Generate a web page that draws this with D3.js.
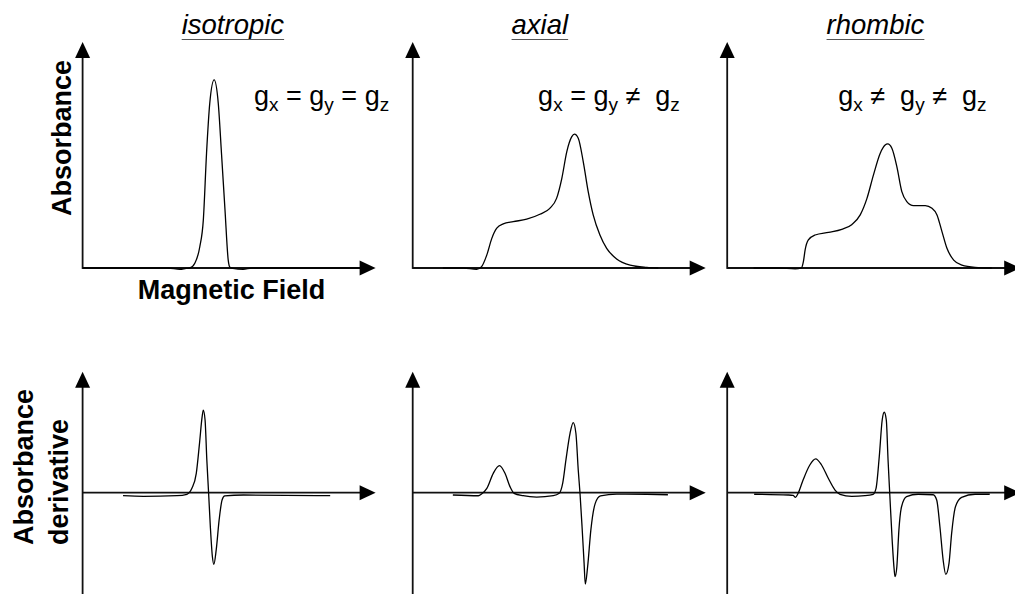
<!DOCTYPE html>
<html>
<head>
<meta charset="utf-8">
<script src="https://cdn.jsdelivr.net/npm/d3@7"></script>
<style>
  html, body { margin: 0; padding: 0; background: #fff; }
  svg { display: block; }
  text { font-family: "Liberation Sans", Arial, Helvetica, sans-serif; fill: #000; }
</style>
</head>
<body>
<svg id="chart" width="1015" height="594"></svg>
<script>
// Column headings (symmetry of the g tensor)
const symmetries = ["isotropic", "axial", "rhombic"];
// Relations between gx/gy and gy/gz for each symmetry
const gRelations = [["=", "="], ["=", "\u2260"], ["\u2260", "\u2260"]];

// Absorption spectra: [magnetic field (a.u. 0-100), absorbance (a.u.)]
const isotropicAbs = [
  [0, 0], [19.6, 0], [29.2, 0], [33.2, -0.006], [35.3, -0.002], [36.6, 0],
  [38.3, 0.021], [40.0, 0.094], [41.2, 0.212], [42.3, 0.508], [43.4, 0.729],
  [44.9, 0.832], [46.3, 0.729], [47.4, 0.508], [48.6, 0.257], [49.7, 0.035],
  [50.3, 0.003], [51.3, -0.002], [54.8, -0.006], [57.8, 0], [74.2, 0], [95, 0]
];
const axialAbs = [
  [10.3, 0], [17.3, 0], [21.8, -0.006], [23.5, 0.006], [25.3, 0.058],
  [27.0, 0.131], [28.7, 0.176], [30.9, 0.195], [34.3, 0.205], [38.9, 0.216],
  [43.4, 0.238], [46.8, 0.264], [49.1, 0.308], [50.9, 0.397], [52.6, 0.515],
  [54.3, 0.581], [55.2, 0.592], [56.5, 0.574], [58.2, 0.471], [59.9, 0.338],
  [61.6, 0.235], [63.9, 0.146], [66.2, 0.087], [69.6, 0.040], [74.2, 0.013],
  [79.9, 0.003], [83.8, 0]
];
const rhombicAbs = [
  [9.0, 0], [17.5, 0], [23.2, -0.004], [25.3, 0], [26.0, 0.028], [26.6, 0.080],
  [27.7, 0.124], [30.0, 0.146], [34.6, 0.158], [39.1, 0.171], [42.6, 0.193],
  [45.4, 0.235], [47.7, 0.308], [49.9, 0.411], [52.2, 0.507], [53.9, 0.544],
  [54.8, 0.549], [56.2, 0.530], [57.9, 0.449], [59.6, 0.338], [61.3, 0.294],
  [63.6, 0.276], [67.6, 0.276], [69.9, 0.264], [71.6, 0.235], [73.3, 0.161],
  [75.0, 0.087], [77.3, 0.035], [80.1, 0.013], [84.6, 0.003], [90.3, 0]
];

// First-derivative spectra: [magnetic field (a.u.), dA/dB (a.u.)]
const isotropicDer = [
  [13.8, -0.025], [20.8, -0.030], [32.2, -0.025], [35.6, -0.013], [37.3, 0.036],
  [38.8, 0.160], [39.9, 0.408], [40.8, 0.628], [41.2, 0.683], [41.8, 0.601],
  [42.4, 0.270], [43.0, 0], [43.6, -0.281], [44.3, -0.529], [44.8, -0.592],
  [45.6, -0.473], [46.6, -0.225], [47.6, -0.060], [48.5, -0.027], [54.9, -0.019],
  [84.5, -0.025]
];
const axialDer = [
  [13.7, -0.019], [22.4, -0.025], [23.5, -0.011], [25.3, 0.036], [27.5, 0.160],
  [29.6, 0.223], [31.5, 0.160], [33.2, 0.050], [34.6, -0.005], [37.7, -0.025],
  [42.3, -0.036], [48.0, -0.025], [50.0, -0.005], [51.2, 0.079], [52.3, 0.271],
  [53.7, 0.491], [54.8, 0.579], [55.7, 0.491], [56.5, 0.188], [57.1, -0.005],
  [57.8, -0.281], [58.5, -0.584], [58.9, -0.755], [59.7, -0.612], [60.8, -0.309],
  [62.3, -0.088], [64.1, -0.027], [69.6, -0.011], [79.9, -0.013], [87.1, -0.017]
];
const rhombicDer = [
  [9.2, -0.013], [20.8, -0.019], [22.5, -0.022], [23.3, -0.038], [24.2, -0.005],
  [25.9, 0.105], [28.2, 0.229], [30.2, 0.279], [32.2, 0.229], [34.5, 0.119],
  [36.8, 0.022], [38.5, -0.013], [42.5, -0.030], [47.0, -0.025], [49.8, -0.013],
  [50.8, 0.036], [51.9, 0.298], [52.9, 0.601], [53.6, 0.665], [54.3, 0.601],
  [54.9, 0.270], [55.5, -0.019], [56.3, -0.391], [57.0, -0.639], [57.3, -0.694],
  [57.9, -0.612], [58.6, -0.309], [59.5, -0.116], [61.2, -0.033], [65.2, -0.013],
  [70.3, -0.017], [71.5, -0.060], [72.6, -0.281], [73.7, -0.556], [74.6, -0.675],
  [75.7, -0.584], [76.6, -0.336], [77.9, -0.116], [80.0, -0.038], [84.6, -0.013],
  [89.6, -0.013]
];

const absSeries = [isotropicAbs, axialAbs, rhombicAbs];
const derSeries = [isotropicDer, axialDer, rhombicDer];

// ---- layout ----
const svg = d3.select("#chart");
const colOrigins = [82.6, 412.7, 727.2];   // left edge (y axis) of each column
const titleAt = [51.3, 43.4, 50.6];         // heading centre, in field units
const relationAt = [58.5, 42.8, 37.9];      // g-relation start, in field units
const axisLen = 293;                        // length of the field axis
const topBase = 268, topTip = 42;           // absorbance panel: baseline / arrow tip
const botBase = 492.7, botHalf = 121;       // derivative panel: zero line / half height
const arrowW = 15, arrowL = 16;
const axisColor = "#111";

function arrowRight(g, x, y) {
  g.append("path")
    .attr("d", `M${x},${y} L${x - arrowL},${y - arrowW / 2} L${x - arrowL},${y + arrowW / 2} Z`)
    .attr("fill", "#000");
}
function arrowUp(g, x, y) {
  g.append("path")
    .attr("d", `M${x},${y} L${x - arrowW / 2},${y + arrowL} L${x + arrowW / 2},${y + arrowL} Z`)
    .attr("fill", "#000");
}

symmetries.forEach((name, i) => {
  const ox = colOrigins[i];
  const x = d3.scaleLinear().domain([0, 100]).range([ox, ox + axisLen]);

  // ---------- absorption panel ----------
  const yA = d3.scaleLinear().domain([0, 1]).range([topBase, topTip]);
  const gA = svg.append("g");
  gA.append("line")
    .attr("x1", x(0)).attr("x2", x(100) - arrowL + 1)
    .attr("y1", yA(0)).attr("y2", yA(0))
    .attr("stroke", axisColor).attr("stroke-width", 1.8);
  gA.append("line")
    .attr("x1", x(0)).attr("x2", x(0))
    .attr("y1", yA(0) + 0.9).attr("y2", yA(1) + arrowL - 1)
    .attr("stroke", axisColor).attr("stroke-width", 1.8);
  arrowRight(gA, x(100), yA(0));
  arrowUp(gA, x(0), yA(1));

  gA.append("path")
    .datum(absSeries[i])
    .attr("fill", "none")
    .attr("stroke", "#000")
    .attr("stroke-width", 1.3)
    .attr("d", d3.line().x(d => x(d[0])).y(d => yA(d[1])).curve(d3.curveMonotoneX));

  // ---------- derivative panel ----------
  const yD = d3.scaleLinear().domain([-1, 1]).range([botBase + botHalf, botBase - botHalf]);
  const gD = svg.append("g");
  gD.append("line")
    .attr("x1", x(0)).attr("x2", x(100) - arrowL + 1)
    .attr("y1", yD(0)).attr("y2", yD(0))
    .attr("stroke", axisColor).attr("stroke-width", 1.8);
  gD.append("line")
    .attr("x1", x(0)).attr("x2", x(0))
    .attr("y1", yD(-1)).attr("y2", yD(1) + arrowL - 1)
    .attr("stroke", axisColor).attr("stroke-width", 1.8);
  arrowRight(gD, x(100), yD(0));
  arrowUp(gD, x(0), yD(1));

  gD.append("path")
    .datum(derSeries[i])
    .attr("fill", "none")
    .attr("stroke", "#000")
    .attr("stroke-width", 1.3)
    .attr("d", d3.line().x(d => x(d[0])).y(d => yD(d[1])).curve(d3.curveMonotoneX));

  // ---------- column heading (italic, underlined) ----------
  const cx = x(titleAt[i]);
  const title = svg.append("text")
    .attr("x", cx).attr("y", 34)
    .attr("text-anchor", "middle")
    .attr("font-size", 27.5)
    .attr("font-style", "italic")
    .text(name);
  const tw = title.node().getComputedTextLength();
  svg.append("line")
    .attr("x1", cx - tw / 2).attr("x2", cx + tw / 2)
    .attr("y1", 39.5).attr("y2", 39.5)
    .attr("stroke", "#555").attr("stroke-width", 1.2);

  // ---------- g-value relation ----------
  const rel = gRelations[i];
  const lbl = svg.append("text")
    .attr("x", x(relationAt[i]))
    .attr("y", 105)
    .attr("font-size", 27)
    .attr("xml:space", "preserve");
  const op = r => r === "\u2260" ? " \u2260  " : " " + r + " ";
  const parts = [
    ["g", 0], ["x", 1], [op(rel[0]), 0],
    ["g", 0], ["y", 1], [op(rel[1]), 0],
    ["g", 0], ["z", 1]
  ];
  let sub = false;
  parts.forEach(([t, s]) => {
    const ts = lbl.append("tspan").text(t);
    if (s && !sub) { ts.attr("dy", 6).attr("font-size", 19); sub = true; }
    else if (s) { ts.attr("font-size", 19); }
    else if (sub) { ts.attr("dy", -6); sub = false; }
  });
});

// ---------- axis titles ----------
svg.append("text")
  .attr("transform", "translate(71,216) rotate(-90)")
  .attr("font-size", 27).attr("font-weight", "bold")
  .text("Absorbance");

svg.append("text")
  .attr("x", 231.5).attr("y", 299)
  .attr("text-anchor", "middle")
  .attr("font-size", 27).attr("font-weight", "bold")
  .text("Magnetic Field");

svg.append("text")
  .attr("transform", "translate(33,545) rotate(-90)")
  .attr("font-size", 27).attr("font-weight", "bold")
  .text("Absorbance");
svg.append("text")
  .attr("transform", "translate(68,545) rotate(-90)")
  .attr("font-size", 27).attr("font-weight", "bold")
  .text("derivative");
</script>
</body>
</html>
